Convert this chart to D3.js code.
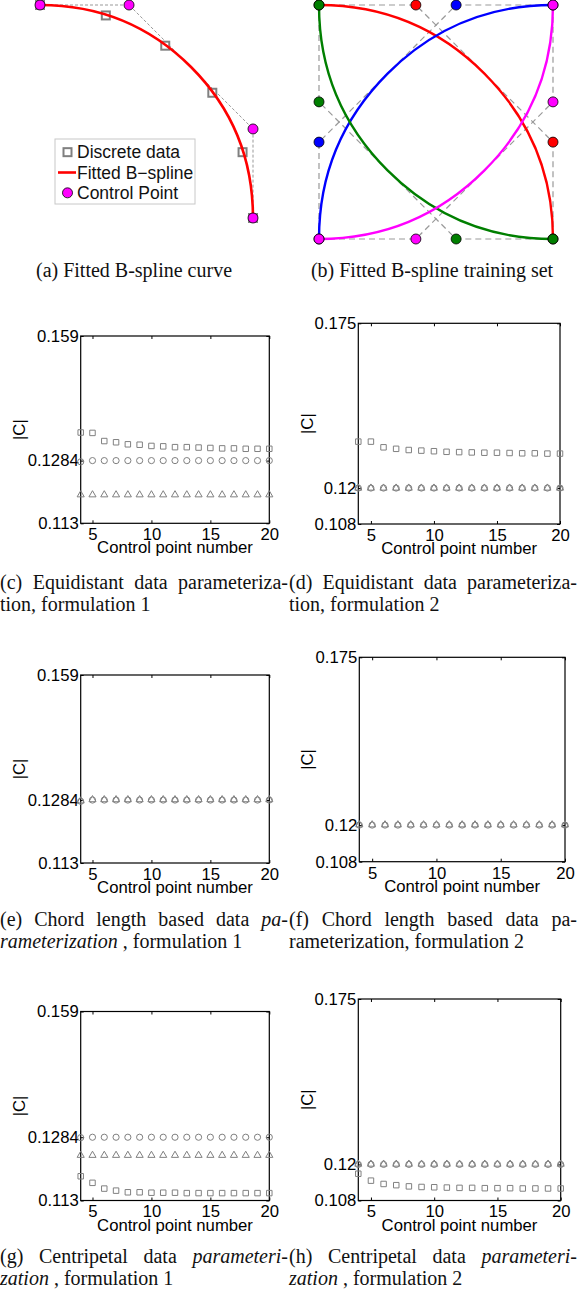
<!DOCTYPE html>
<html>
<head>
<meta charset="utf-8">
<script src="https://cdn.jsdelivr.net/npm/d3@7"></script>
<style>
  body { margin: 0; background: #fff; }
  svg { display: block; }
</style>
</head>
<body>
<svg id="fig" width="577" height="1301"></svg>
<script>
const svg = d3.select("#fig");
const SANS = "'Liberation Sans', Arial, sans-serif";
const SERIF = "'Liberation Serif', 'Times New Roman', serif";
const GREY = "#808080";

// ---- panel (a): one quarter arc
const arcData = [[0, 1], [0.309, 0.951], [0.588, 0.809], [0.809, 0.588], [0.951, 0.309], [1, 0]];
const arcCtrl = [[0, 1], [0.418, 1], [1, 0.418], [1, 0]];
const legendLabels = ["Discrete data", "Fitted B\u2212spline", "Control Point"];

// ---- panel (b): training set, four arcs
const setColors = ["#ff0000", "#0000ff", "#007f00", "#ff00ff"];
const setCtrl = [
  [[0, 1], [0.414, 1], [1, 0.414], [1, 0]],
  [[0, 0], [0, 0.414], [0.586, 1], [1, 1]],
  [[0, 1], [0, 0.586], [0.586, 0], [1, 0]],
  [[0, 0], [0.414, 0], [1, 0.586], [1, 1]]
];

// ---- panels (c)-(h): |C| against control point number
const ctrlNums = [4, 5, 6, 7, 8, 9, 10, 11, 12, 13, 14, 15, 16, 17, 18, 19, 20];

const eq1Square = [0.1353, 0.1352, 0.1332, 0.1329, 0.1324, 0.1323, 0.1320, 0.1319, 0.1317, 0.1317, 0.1316, 0.1315, 0.1314, 0.1314, 0.1313, 0.1313, 0.1313];
const eq1Circle = [0.1281, 0.1284, 0.1284, 0.1284, 0.1284, 0.1284, 0.1284, 0.1284, 0.1284, 0.1284, 0.1284, 0.1284, 0.1284, 0.1284, 0.1284, 0.1284, 0.1284];
const eq1Triangle = [0.1200, 0.1200, 0.1200, 0.1200, 0.1200, 0.1200, 0.1200, 0.1200, 0.1200, 0.1200, 0.1200, 0.1200, 0.1200, 0.1200, 0.1200, 0.1200, 0.1200];

const eq2Square = [0.1355, 0.1355, 0.1336, 0.1331, 0.1327, 0.1325, 0.1323, 0.1321, 0.1320, 0.1319, 0.1318, 0.1318, 0.1317, 0.1316, 0.1316, 0.1315, 0.1315];
const eq2Circle = [0.1200, 0.1200, 0.1200, 0.1200, 0.1200, 0.1200, 0.1200, 0.1200, 0.1200, 0.1200, 0.1200, 0.1200, 0.1200, 0.1200, 0.1200, 0.1200, 0.1200];
const eq2Triangle = [0.1200, 0.1200, 0.1200, 0.1200, 0.1200, 0.1200, 0.1200, 0.1200, 0.1200, 0.1200, 0.1200, 0.1200, 0.1200, 0.1200, 0.1200, 0.1200, 0.1200];

const ch1Circle = [0.1281, 0.1284, 0.1284, 0.1284, 0.1284, 0.1284, 0.1284, 0.1284, 0.1284, 0.1284, 0.1284, 0.1284, 0.1284, 0.1284, 0.1284, 0.1284, 0.1284];
const ch1Triangle = [0.1282, 0.1285, 0.1285, 0.1285, 0.1285, 0.1285, 0.1285, 0.1285, 0.1285, 0.1285, 0.1285, 0.1285, 0.1285, 0.1285, 0.1285, 0.1285, 0.1285];

const ch2Circle = [0.1200, 0.1200, 0.1200, 0.1200, 0.1200, 0.1200, 0.1200, 0.1200, 0.1200, 0.1200, 0.1200, 0.1200, 0.1200, 0.1200, 0.1200, 0.1200, 0.1200];
const ch2Triangle = [0.1201, 0.1201, 0.1201, 0.1201, 0.1201, 0.1201, 0.1201, 0.1201, 0.1201, 0.1201, 0.1201, 0.1201, 0.1201, 0.1201, 0.1201, 0.1201, 0.1201];

const ce1Square = [0.1189, 0.1173, 0.1159, 0.1154, 0.1150, 0.1150, 0.1149, 0.1149, 0.1149, 0.1148, 0.1148, 0.1148, 0.1148, 0.1148, 0.1148, 0.1148, 0.1148];
const ce1Circle = [0.1283, 0.1284, 0.1284, 0.1284, 0.1284, 0.1284, 0.1284, 0.1284, 0.1284, 0.1284, 0.1284, 0.1284, 0.1284, 0.1284, 0.1284, 0.1284, 0.1284];
const ce1Triangle = [0.1240, 0.1240, 0.1240, 0.1240, 0.1240, 0.1240, 0.1240, 0.1240, 0.1240, 0.1240, 0.1240, 0.1240, 0.1240, 0.1240, 0.1240, 0.1240, 0.1240];

const ce2Square = [0.1169, 0.1146, 0.1135, 0.1131, 0.1127, 0.1125, 0.1124, 0.1123, 0.1122, 0.1122, 0.1121, 0.1121, 0.1121, 0.1120, 0.1120, 0.1120, 0.1120];
const ce2Circle = [0.1200, 0.1200, 0.1200, 0.1200, 0.1200, 0.1200, 0.1200, 0.1200, 0.1200, 0.1200, 0.1200, 0.1200, 0.1200, 0.1200, 0.1200, 0.1200, 0.1200];
const ce2Triangle = [0.1201, 0.1201, 0.1201, 0.1201, 0.1201, 0.1201, 0.1201, 0.1201, 0.1201, 0.1201, 0.1201, 0.1201, 0.1201, 0.1201, 0.1201, 0.1201, 0.1201];

const yTicks1 = [0.113, 0.1284, 0.159];
const yTicks2 = [0.108, 0.12, 0.175];
const xTicks = [5, 10, 15, 20];

// ---- captions (width > 0 means the line is justified to that width)
const captions = [
  { x: 134, y: 277, anchor: "middle", width: 0, seg: [["(a) Fitted B-spline curve", false]] },
  { x: 432, y: 277, anchor: "middle", width: 0, seg: [["(b) Fitted B-spline training set", false]] },
  { x: 0, y: 589, width: 288, seg: [["(c) Equidistant data parameteriza-", false]] },
  { x: 0, y: 611, width: 0, seg: [["tion, formulation 1", false]] },
  { x: 289, y: 589, width: 288, seg: [["(d) Equidistant data parameteriza-", false]] },
  { x: 289, y: 611, width: 0, seg: [["tion, formulation 2", false]] },
  { x: 0, y: 926, width: 288, seg: [["(e) Chord length based data ", false], ["pa-", true]] },
  { x: 0, y: 948, width: 0, seg: [["rameterization", true], [" , formulation 1", false]] },
  { x: 289, y: 926, width: 288, seg: [["(f) Chord length based data pa-", false]] },
  { x: 289, y: 948, width: 0, seg: [["rameterization, formulation 2", false]] },
  { x: 0, y: 1263, width: 288, seg: [["(g) Centripetal data ", false], ["parameteri-", true]] },
  { x: 0, y: 1285, width: 0, seg: [["zation", true], [" , formulation 1", false]] },
  { x: 289, y: 1263, width: 288, seg: [["(h) Centripetal data ", false], ["parameteri-", true]] },
  { x: 289, y: 1285, width: 0, seg: [["zation", true], [" , formulation 2", false]] }
];

// quadratic B-spline through 4 control points (one interior knot)
function spline(sx, sy, pts) {
  const p = d3.path();
  const mx = (pts[1][0] + pts[2][0]) / 2, my = (pts[1][1] + pts[2][1]) / 2;
  p.moveTo(sx(pts[0][0]), sy(pts[0][1]));
  p.quadraticCurveTo(sx(pts[1][0]), sy(pts[1][1]), sx(mx), sy(my));
  p.quadraticCurveTo(sx(pts[2][0]), sy(pts[2][1]), sx(pts[3][0]), sy(pts[3][1]));
  return p.toString();
}

// ================= panel (a)
{
  const g = svg.append("g");
  const x = d3.scaleLinear([0, 1], [40, 253]);
  const y = d3.scaleLinear([0, 1], [218, 5]);
  const line = d3.line().x(d => x(d[0])).y(d => y(d[1]));

  g.append("path").attr("d", line(arcCtrl))
    .attr("fill", "none").attr("stroke", "#999").attr("stroke-width", 1)
    .attr("stroke-dasharray", "3,2");

  g.selectAll(".sq").data(arcData).join("rect")
    .attr("x", d => x(d[0]) - 4).attr("y", d => y(d[1]) - 4)
    .attr("width", 8).attr("height", 8)
    .attr("fill", "#fff").attr("stroke", GREY).attr("stroke-width", 2);

  g.append("path").attr("d", spline(x, y, arcCtrl))
    .attr("fill", "none").attr("stroke", "#ff0000").attr("stroke-width", 2.6);

  g.selectAll(".cp").data(arcCtrl).join("circle")
    .attr("cx", d => x(d[0])).attr("cy", d => y(d[1])).attr("r", 5)
    .attr("fill", "#ff00ff").attr("stroke", "#000").attr("stroke-width", 0.8);

  // legend
  const lg = g.append("g").attr("transform", "translate(55,139)");
  lg.append("rect").attr("width", 140).attr("height", 65)
    .attr("fill", "#fff").attr("stroke", "#c8c8c8").attr("stroke-width", 1);
  const ly = d3.scaleBand().domain(legendLabels).range([3, 64]);
  const cy = d => ly(d) + ly.bandwidth() / 2;
  lg.append("rect").attr("x", 8.5).attr("y", cy(legendLabels[0]) - 4)
    .attr("width", 8).attr("height", 8).attr("fill", "#fff").attr("stroke", GREY).attr("stroke-width", 2);
  lg.append("line").attr("x1", 3).attr("x2", 21)
    .attr("y1", cy(legendLabels[1])).attr("y2", cy(legendLabels[1]))
    .attr("stroke", "#ff0000").attr("stroke-width", 2.6);
  lg.append("circle").attr("cx", 12.5).attr("cy", cy(legendLabels[2])).attr("r", 5)
    .attr("fill", "#ff00ff").attr("stroke", "#000").attr("stroke-width", 0.8);
  lg.selectAll("text").data(legendLabels).join("text")
    .attr("x", 22).attr("y", cy).attr("dy", "0.36em")
    .attr("font-family", SANS).attr("font-size", 17.5).attr("fill", "#111")
    .text(d => d);
}

// ================= panel (b)
{
  const g = svg.append("g");
  const x = d3.scaleLinear([0, 1], [319, 553]);
  const y = d3.scaleLinear([0, 1], [239, 5]);
  const line = d3.line().x(d => x(d[0])).y(d => y(d[1]));

  setCtrl.forEach(pts => {
    g.append("path").attr("d", line(pts))
      .attr("fill", "none").attr("stroke", "#999").attr("stroke-width", 1.2)
      .attr("stroke-dasharray", "6,4");
  });
  setCtrl.forEach((pts, i) => {
    g.append("path").attr("d", spline(x, y, pts))
      .attr("fill", "none").attr("stroke", setColors[i]).attr("stroke-width", 2.4);
  });
  setCtrl.forEach((pts, i) => {
    g.selectAll(null).data(pts).join("circle")
      .attr("cx", d => x(d[0])).attr("cy", d => y(d[1])).attr("r", 5)
      .attr("fill", setColors[i]).attr("stroke", "#000").attr("stroke-width", 0.8);
  });
}

// ================= panels (c)-(h)
const sqSym = d3.symbol(d3.symbolSquare, 30);
const ciSym = d3.symbol(d3.symbolCircle, 30);
const trSym = d3.symbol(d3.symbolTriangle, 22);

const panels = [
  { left: 80.7, right: 269.3, top: 336, bottom: 523.3, yDomain: [0.113, 0.159], yTicks: yTicks1, ylabX: 25,
    series: [[eq1Square, sqSym], [eq1Circle, ciSym], [eq1Triangle, trSym]] },
  { left: 358.3, right: 560, top: 323.3, bottom: 524, yDomain: [0.108, 0.175], yTicks: yTicks2, ylabX: 313,
    series: [[eq2Square, sqSym], [eq2Circle, ciSym], [eq2Triangle, trSym]] },
  { left: 80.7, right: 269.3, top: 675, bottom: 863, yDomain: [0.113, 0.159], yTicks: yTicks1, ylabX: 25,
    series: [[ch1Circle, ciSym], [ch1Triangle, trSym]] },
  { left: 359.3, right: 565, top: 657.3, bottom: 861.7, yDomain: [0.108, 0.175], yTicks: yTicks2, ylabX: 313,
    series: [[ch2Circle, ciSym], [ch2Triangle, trSym]] },
  { left: 80.7, right: 269.3, top: 1011.5, bottom: 1200.5, yDomain: [0.113, 0.159], yTicks: yTicks1, ylabX: 25,
    series: [[ce1Square, sqSym], [ce1Circle, ciSym], [ce1Triangle, trSym]] },
  { left: 358.3, right: 560.7, top: 999, bottom: 1200.5, yDomain: [0.108, 0.175], yTicks: yTicks2, ylabX: 313,
    series: [[ce2Square, sqSym], [ce2Circle, ciSym], [ce2Triangle, trSym]] }
];

panels.forEach(p => {
  const g = svg.append("g");
  const x = d3.scaleLinear([4, 20], [p.left, p.right]);
  const y = d3.scaleLinear(p.yDomain, [p.bottom, p.top]);

  const styleAxis = sel => {
    sel.select(".domain").remove();
    sel.selectAll(".tick line").attr("stroke", "#000");
    sel.selectAll(".tick text").attr("font-family", SANS).attr("font-size", 16.7).attr("fill", "#000");
  };

  g.append("g").attr("transform", `translate(0,${p.bottom})`)
    .call(d3.axisBottom(x).tickValues(xTicks).tickSizeInner(-3).tickSizeOuter(0).tickPadding(5))
    .call(styleAxis);
  g.append("g").attr("transform", `translate(0,${p.top})`)
    .call(d3.axisTop(x).tickValues(xTicks).tickSizeInner(-3).tickSizeOuter(0).tickFormat(""))
    .call(styleAxis);
  g.append("g").attr("transform", `translate(${p.left},0)`)
    .call(d3.axisLeft(y).tickValues(p.yTicks).tickSizeInner(-3).tickSizeOuter(0).tickPadding(2).tickFormat(d => String(d)))
    .call(styleAxis);
  g.append("g").attr("transform", `translate(${p.right},0)`)
    .call(d3.axisRight(y).tickValues(p.yTicks).tickSizeInner(-3).tickSizeOuter(0).tickFormat(""))
    .call(styleAxis);

  g.append("rect")
    .attr("x", p.left).attr("y", p.top)
    .attr("width", p.right - p.left).attr("height", p.bottom - p.top)
    .attr("fill", "none").attr("stroke", "#000").attr("stroke-width", 1.2);

  p.series.forEach(([vals, sym]) => {
    g.selectAll(null).data(vals.map((v, i) => [ctrlNums[i], v])).join("path")
      .attr("transform", d => `translate(${x(d[0])},${y(d[1])})`)
      .attr("d", sym)
      .attr("fill", "none").attr("stroke", GREY).attr("stroke-width", 1);
  });

  g.append("text")
    .attr("x", (p.left + p.right) / 2).attr("y", p.bottom + 30)
    .attr("text-anchor", "middle").attr("font-family", SANS).attr("font-size", 16.7)
    .text("Control point number");
  g.append("text")
    .attr("transform", `translate(${p.ylabX},${(p.top + p.bottom) / 2}) rotate(-90)`)
    .attr("text-anchor", "middle").attr("font-family", SANS).attr("font-size", 16.7)
    .text("|C|");
});

// ================= captions
captions.forEach(c => {
  const t = svg.append("text")
    .attr("x", c.x).attr("y", c.y)
    .attr("text-anchor", c.anchor || "start")
    .attr("font-family", SERIF).attr("font-size", 20).attr("fill", "#111")
    .style("white-space", "pre");
  c.seg.forEach(([s, it]) => {
    t.append("tspan").attr("font-style", it ? "italic" : "normal").text(s);
  });
  if (c.width) {
    const natural = t.node().getComputedTextLength();
    const spaces = c.seg.map(s => s[0]).join("").split(" ").length - 1;
    t.attr("word-spacing", Math.max(0, (c.width - natural) / spaces));
  }
});
</script>
</body>
</html>
